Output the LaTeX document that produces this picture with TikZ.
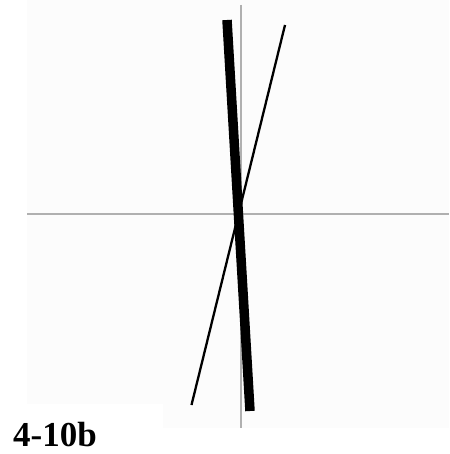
\documentclass[tikz,border=0pt]{standalone}
\usepackage{fontspec}
\setmainfont{Liberation Serif}
\begin{document}
\begin{tikzpicture}[x=1pt,y=-1pt,
  axis/.style={draw=black!31,line width=2pt},
  thickline/.style={draw=black,line width=9.5pt},
  thinline/.style={draw=black,line width=2.3pt},
  lbl/.style={font=\bfseries\fontsize{35}{35}\selectfont,inner sep=0pt,anchor=base west}]
\useasboundingbox (0,0) rectangle (449,454);
\fill[white] (0,0) rectangle (449,454);
\fill[black!1] (27,0) rectangle (449,428);
\fill[white] (0,404) rectangle (163,454);
\coordinate (vt) at (241,5);
\coordinate (vb) at (241,428);
\coordinate (hl) at (27,214);
\coordinate (hr) at (449,214);
\draw[axis] (vt) -- (vb);
\draw[axis] (hl) -- (hr);
\coordinate (a1) at (227,20);
\coordinate (a2) at (250,411);
\coordinate (b1) at (285,25);
\coordinate (b2) at (191.5,405);
\draw[thickline] (a1) -- (a2);
\draw[thinline] (b1) -- (b2);
\node[lbl] (label) at (13,446) {4-10b};
\end{tikzpicture}
\end{document}
